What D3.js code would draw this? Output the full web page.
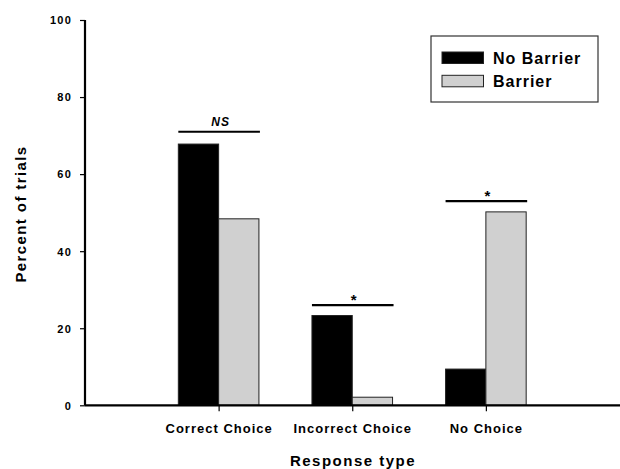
<!DOCTYPE html>
<html>
<head>
<meta charset="utf-8">
<script src="https://cdn.jsdelivr.net/npm/d3@7"></script>
<style>
  body { margin: 0; background: #fff; }
  text { font-family: "Liberation Sans", Arial, sans-serif; font-weight: bold; fill: #000; }
</style>
</head>
<body>
<svg id="chart" width="620" height="469"></svg>
<script>
"use strict";

// Data //////////////////////////////////////////////////
var categories = ["Correct Choice", "Incorrect Choice", "No Choice"];
var seriesNames = ["No Barrier", "Barrier"];
var noBarrier = [67.8, 23.3, 9.4];
var barrier = [48.4, 2.1, 50.2];
var yTicks = [0, 20, 40, 60, 80, 100];
var sigLabels = ["NS", "*", "*"];
var sigLevels = [71, 26, 53];
var colors = ["#000000", "#d0d0d0"];

var svg = d3.select("#chart");

var x = d3.scaleLinear().domain([0, 4]).range([85, 619.5]);
var y = d3.scaleLinear().domain([0, 100]).range([405.3, 20]);
var barW = 40.3;

// Bars
var series = [noBarrier, barrier];
series.forEach(function(vals, s) {
  svg.append("g").selectAll("rect")
      .data(vals)
      .enter()
      .append("rect")
      .attr("x", function(d, i) { return x(i + 1) - barW + s * barW; })
      .attr("y", function(d) { return y(d); })
      .attr("width", barW)
      .attr("height", function(d) { return y(0) - y(d); })
      .attr("fill", colors[s])
      .attr("stroke", "#222")
      .attr("stroke-width", 1);
});

// Y axis
var yAxis = d3.axisLeft(y).tickValues(yTicks).tickSize(5).tickPadding(8);
var gy = svg.append("g").attr("transform", "translate(85,0)").call(yAxis);
gy.select(".domain").attr("stroke-width", 2.2).attr("d", "M0," + y(100) + "V" + y(0));
gy.selectAll(".tick line").attr("stroke-width", 1.2);
gy.selectAll(".tick text")
    .style("font-size", "11px")
    .style("letter-spacing", "1.2px")
    .attr("dy", "0.35em");

// X axis
var xAxis = d3.axisBottom(x).tickValues([1, 2, 3])
    .tickFormat(function(d) { return categories[d - 1]; })
    .tickSize(6).tickPadding(12);
var gx = svg.append("g").attr("transform", "translate(0," + y(0) + ")").call(xAxis);
gx.select(".domain").attr("stroke-width", 2.2).attr("d", "M85,0H620");
gx.selectAll(".tick line").attr("stroke-width", 1.2);
gx.selectAll(".tick text")
    .style("font-size", "13px")
    .style("letter-spacing", "1px");

// Significance bars
categories.forEach(function(c, i) {
  var x0 = x(i + 1) - barW, x1 = x(i + 1) + barW;
  svg.append("line")
      .attr("x1", x0).attr("x2", x1 + 1)
      .attr("y1", y(sigLevels[i])).attr("y2", y(sigLevels[i]))
      .attr("stroke", "#000").attr("stroke-width", 2.2);
  svg.append("text")
      .attr("x", x(i + 1) + 2)
      .attr("y", y(sigLevels[i]) - (sigLabels[i] === "NS" ? 6 : 0))
      .attr("text-anchor", "middle")
      .style("font-size", sigLabels[i] === "NS" ? "12px" : "15px")
      .style("font-style", sigLabels[i] === "NS" ? "italic" : "normal")
      .style("font-weight", "bold")
      .style("letter-spacing", "1px")
      .text(sigLabels[i]);
});

// Axis titles
svg.append("text")
    .attr("transform", "translate(26,214) rotate(-90)")
    .attr("text-anchor", "middle")
    .style("font-size", "15px")
    .style("letter-spacing", "1.4px")
    .text("Percent of trials");

svg.append("text")
    .attr("x", 353).attr("y", 465.5)
    .attr("text-anchor", "middle")
    .style("font-size", "15px")
    .style("letter-spacing", "1.5px")
    .text("Response type");

// Legend
var legend = svg.append("g");
legend.append("rect")
    .attr("x", 431).attr("y", 36).attr("width", 167).attr("height", 66)
    .attr("fill", "#fff").attr("stroke", "#333").attr("stroke-width", 1.2);
seriesNames.forEach(function(name, s) {
  legend.append("rect")
      .attr("x", 442).attr("y", 52 + s * 23.3)
      .attr("width", 41.5).attr("height", 11.5)
      .attr("fill", colors[s]).attr("stroke", "#222").attr("stroke-width", 1);
  legend.append("text")
      .attr("x", 493).attr("y", 64.3 + s * 23)
      .style("font-size", "16px")
      .style("letter-spacing", "1px")
      .text(name);
});
</script>
</body>
</html>
